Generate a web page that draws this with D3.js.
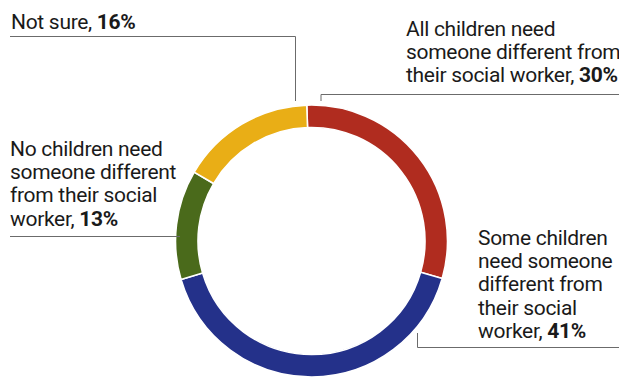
<!DOCTYPE html>
<html>
<head>
<meta charset="utf-8">
<script src="https://cdn.jsdelivr.net/npm/d3@7"></script>
<style>
  html, body { margin: 0; padding: 0; background: #fff; }
  svg { display: block; }
  text { font-family: Roboto, "Open Sans", sans-serif; letter-spacing: -0.3px; fill: #1a1a1a; }
</style>
</head>
<body>
<svg id="chart" width="619" height="378"></svg>
<script>
// Survey answers, clockwise from the top
const categories = [
  "All children need someone different from their social worker",
  "Some children need someone different from their social worker",
  "No children need someone different from their social worker",
  "Not sure"
];
const values = [30, 41, 13, 16];
const colors = ["#b02c1f", "#24318a", "#4a6a1b", "#e9ae16"];

// Wrapped label text (last line ends with the value in bold)
const labelLines = [
  ["All children need", "someone different from", "their social worker, "],
  ["Some children", "need someone", "different from", "their social", "worker, "],
  ["No children need", "someone different", "from their social", "worker, "],
  ["Not sure, "]
];

// Label placement: text origin and leader path points
const labelLayout = [
  { x: 406, y: 36, leader: [[619, 94.5], [321, 94.5], [321, 101]] },
  { x: 478, y: 245, leader: [[619, 347.5], [417.5, 347.5], [417.5, 333]] },
  { x: 10, y: 156, leader: [[10, 236.5], [180, 236.5]] },
  { x: 11, y: 29, leader: [[10, 36.5], [295.5, 36.5], [295.5, 101]] }
];

const svg = d3.select("#chart");
const cx = 311.5, cy = 241, outerR = 136, innerR = 113.5;
const lineH = 23.2;
const offset = -2 * Math.PI / 180;

const pie = d3.pie().sort(null).value(d => d)
  .startAngle(offset).endAngle(offset + 2 * Math.PI);
const arc = d3.arc().innerRadius(innerR).outerRadius(outerR);

const g = svg.append("g").attr("transform", `translate(${cx},${cy})`);
g.selectAll("path.slice")
  .data(pie(values))
  .join("path")
  .attr("class", "slice")
  .attr("d", arc)
  .attr("fill", (d, i) => colors[i])
  .attr("stroke", "#fff")
  .attr("stroke-width", 1.6);

// Leader lines
const line = d3.line();
svg.selectAll("path.leader")
  .data(labelLayout)
  .join("path")
  .attr("class", "leader")
  .attr("d", d => line(d.leader))
  .attr("fill", "none")
  .attr("stroke", "#6b6b6b")
  .attr("stroke-width", 1);

// Labels
labelLines.forEach((lines, i) => {
  const lay = labelLayout[i];
  const t = svg.append("text")
    .attr("x", lay.x)
    .attr("y", lay.y)
    .attr("font-size", 21);
  lines.forEach((ln, j) => {
    t.append("tspan")
      .attr("x", lay.x)
      .attr("y", lay.y + j * lineH)
      .text(ln);
  });
  t.select("tspan:last-child")
    .append("tspan")
    .attr("font-weight", 700)
    .text(values[i] + "%");
});
</script>
</body>
</html>
